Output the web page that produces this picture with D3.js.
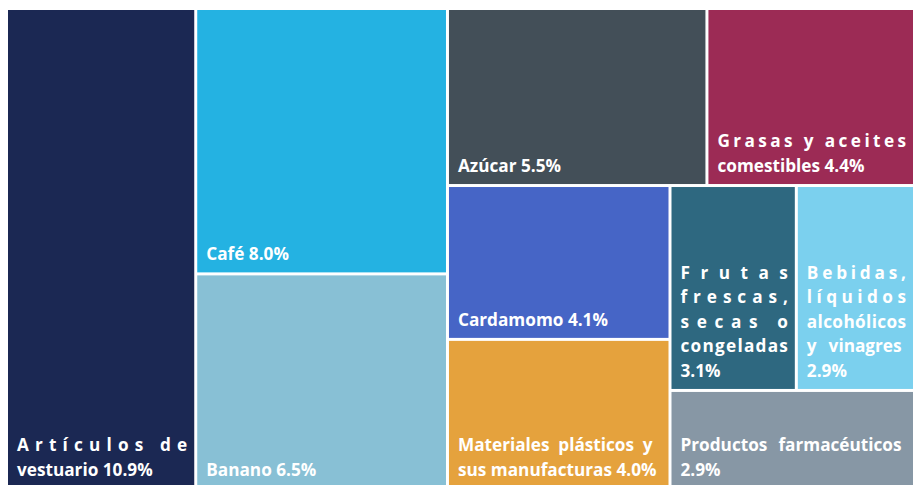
<!DOCTYPE html>
<html>
<head>
<meta charset="utf-8">
<script src="https://cdn.jsdelivr.net/npm/d3@7"></script>
<style>
  body { margin: 0; background: #fff; }
  svg text { font-family: "Open Sans", sans-serif; font-weight: 700; fill: #fff; }
</style>
</head>
<body>
<div id="chart"></div>
<script>
  var categories = [
    "Artículos de vestuario", "Café", "Banano", "Azúcar",
    "Grasas y aceites comestibles", "Cardamomo",
    "Materiales plásticos y sus manufacturas",
    "Frutas frescas, secas o congeladas",
    "Bebidas, líquidos alcohólicos y vinagres",
    "Productos farmacéuticos"
  ];
  var shares = [10.9, 8.0, 6.5, 5.5, 4.4, 4.1, 4.0, 3.1, 2.9, 2.9];
  var colors = ["#1b2853", "#24b2e2", "#88c0d5", "#434f58", "#9c2b55",
                "#4665c6", "#e5a23d", "#2e6880", "#7bd0ee", "#8797a5"];

  var width = 913, height = 485;
  var margin = { top: 10, left: 8 };
  var pad = 3;
  var fontSize = 17.2, lineH = 24.6;

  // grouping of the tiles as laid out in the picture (index into arrays)
  // "h" = split side by side, "v" = stacked
  function leaf(i) { return { name: categories[i], value: shares[i], color: colors[i] }; }
  var tree = { dir: "h", children: [
    leaf(0),
    { dir: "v", children: [leaf(1), leaf(2)] },
    { dir: "v", children: [
      { dir: "h", children: [leaf(3), leaf(4)] },
      { dir: "h", children: [
        { dir: "v", children: [leaf(5), leaf(6)] },
        { dir: "v", children: [
          { dir: "h", children: [leaf(7), leaf(8)] },
          leaf(9)
        ]}
      ]}
    ]}
  ]};

  var svg = d3.select("#chart").append("svg")
    .attr("width", width)
    .attr("height", height);

  var root = d3.hierarchy(tree).sum(function(d) { return d.value || 0; });

  d3.treemap()
    .tile(function(node, x0, y0, x1, y1) {
      if (node.data.dir === "h") d3.treemapDice(node, x0, y0, x1, y1);
      else d3.treemapSlice(node, x0, y0, x1, y1);
    })
    .size([905, 478])
    .paddingInner(pad)(root);

  var g = svg.append("g")
    .attr("transform", "translate(" + margin.left + "," + margin.top + ")");

  var cell = g.selectAll("g.cell")
    .data(root.leaves())
    .enter().append("g")
    .attr("class", "cell")
    .attr("transform", function(d) { return "translate(" + d.x0 + "," + d.y0 + ")"; });

  cell.append("rect")
    .attr("width", function(d) { return d.x1 - d.x0; })
    .attr("height", function(d) { return d.y1 - d.y0; })
    .attr("fill", function(d) { return d.data.color; });

  // measuring helper
  var meas = svg.append("text").style("font-size", fontSize + "px");
  function textW(s) { meas.text(s); return meas.node().getComputedTextLength(); }

  cell.each(function(d) {
    var el = d3.select(this);
    var boxW = d.x1 - d.x0 - 16;
    var words = (d.data.name + " " + d.data.value.toFixed(1) + "%").split(" ");
    var lines = [], cur = "";
    words.forEach(function(w) {
      var t = cur ? cur + " " + w : w;
      if (cur && textW(t) > boxW) { lines.push(cur); cur = w; }
      else cur = t;
    });
    lines.push(cur);

    var bottom = d.y1 - d.y0 - 12;
    lines.forEach(function(line, i) {
      var y = bottom - (lines.length - 1 - i) * lineH;
      var last = i === lines.length - 1;
      var extra = boxW - textW(line);
      var parts = line.split(" ");
      if (last || extra <= 0) {
        el.append("text").attr("x", 9).attr("y", y)
          .style("font-size", fontSize + "px").text(line);
      } else if (parts.length > 1 && extra / (parts.length - 1) < 25) {
        // justify by word spacing
        var gap = extra / (parts.length - 1);
        var x = 9;
        parts.forEach(function(p) {
          el.append("text").attr("x", x).attr("y", y)
            .style("font-size", fontSize + "px").text(p);
          x += textW(p) + textW(" ") + gap;
        });
      } else {
        // justify by letter spacing
        var ls = extra / (line.length - 1);
        el.append("text").attr("x", 9).attr("y", y)
          .style("font-size", fontSize + "px")
          .style("letter-spacing", ls + "px")
          .text(line);
      }
    });
  });
  meas.remove();
</script>
</body>
</html>
